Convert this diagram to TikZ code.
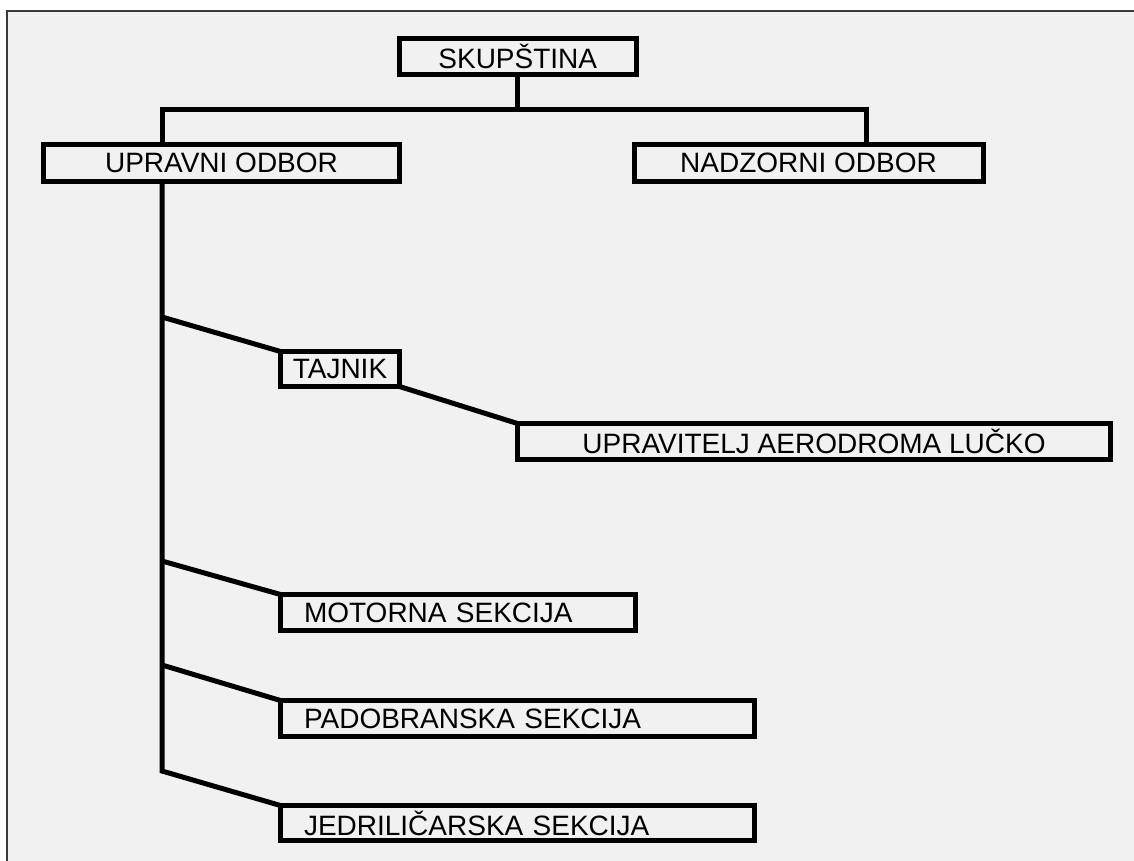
\documentclass[tikz,border=0pt]{standalone}
\usepackage{fontspec}
\setmainfont{Liberation Sans}
\definecolor{bgc}{HTML}{F1F1F1}
\definecolor{framec}{HTML}{3A3A3A}
\begin{document}
\begin{tikzpicture}[x=1pt,y=-1pt,
  box/.style={draw=black, line width=5pt, inner sep=0pt, outer sep=0pt,
    font=\fontsize{28}{32}\selectfont, text=black, anchor=center},
  lbox/.style={box, align=left, inner xsep=23.5pt},
  conn/.style={draw=black, line width=5pt, line join=miter}]
\useasboundingbox (0,0) rectangle (1134,860);
\begin{scope}
\clip (0,0) rectangle (1134,860);
\fill[white] (0,0) rectangle (1134,860);
\draw[framec, line width=1.3pt, fill=bgc] (7,11) rectangle (1150,880);
\end{scope}
% nodes
\node[box, minimum width=236.5pt, minimum height=35.5pt] (skup) at (517.75,56.25) {SKUPŠTINA};
\node[box, minimum width=356pt, minimum height=36.5pt] (uo) at (221.5,162.75) {UPRAVNI ODBOR};
\node[box, minimum width=349pt, minimum height=36.5pt] (no) at (808.5,162.75) {NADZORNI ODBOR};
\node[box, minimum width=119pt, minimum height=35pt] (taj) at (340,369) {TAJNIK};
\node[box, minimum width=593pt, minimum height=36pt] (ual) at (814,441.5) {UPRAVITELJ AERODROMA LUČKO};
\node[lbox, text width=308pt, minimum height=36pt] (mot) at (458,612.5) {MOTORNA SEKCIJA};
\node[lbox, text width=427pt, minimum height=36pt] (pad) at (517.5,718.5) {PADOBRANSKA SEKCIJA};
\node[lbox, text width=427pt, minimum height=35pt] (jed) at (517.5,823) {JEDRILIČARSKA SEKCIJA};
% coordinates
\coordinate (hL) at (162,109.5);
\coordinate (hR) at (866,109.5);
\coordinate (bt) at (162,317);
\coordinate (bm) at (162,561);
\coordinate (bp) at (162,665);
\coordinate (bj) at (162,771);
% connectors
\draw[conn] (skup.south) -- (skup.south |- hL);
\draw[conn] (uo.north -| hL) -- (hL) -- (hR) -- (no.north -| hR);
\draw[conn] (uo.south -| bj) -- (bj) -- (jed.north west);
\draw[conn] (bt) -- (taj.north west);
\draw[conn] (taj.south east) -- (ual.north west);
\draw[conn] (bm) -- (mot.north west);
\draw[conn] (bp) -- (pad.north west);
\end{tikzpicture}
\end{document}
